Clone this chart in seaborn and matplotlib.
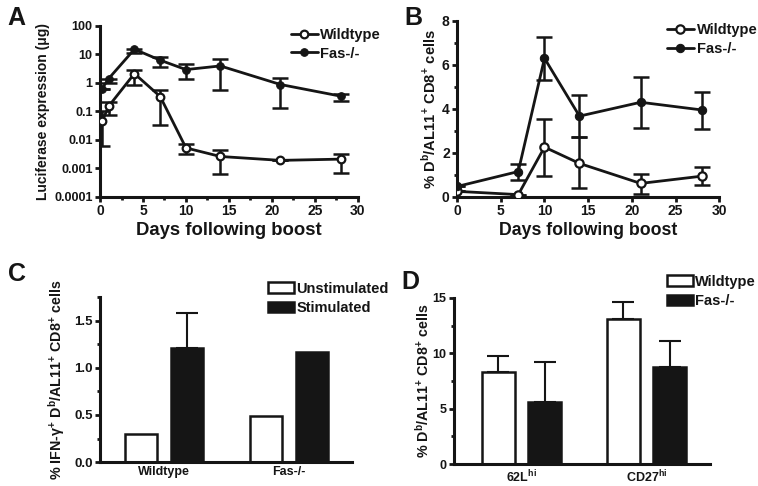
import numpy as np
import pandas as pd
import matplotlib
matplotlib.use("Agg")
import matplotlib.pyplot as plt
from matplotlib.ticker import MultipleLocator, FixedLocator, NullLocator
import seaborn as sns

# ---- panel A: luciferase expression (log scale)
days_a = [0.25, 1, 4, 7, 10, 14, 21, 28]
wt_a = [0.045, 0.15, 2.1, 0.33, 0.0052, 0.0026, 0.0019, 0.0021]
wt_a_lo = [0.006, 0.076, 0.81, 0.032, 0.0031, 0.00063, 0.0019, 0.00066]
wt_a_hi = [0.1, 0.21, 2.75, 0.57, 0.0072, 0.0045, 0.0019, 0.0033]
fas_a = [0.63, 1.4, 15, 6.2, 2.9, 3.9, 0.87, 0.34]
fas_a_lo = [0.63, 0.98, 10.7, 3.6, 1.4, 0.58, 0.13, 0.23]
fas_a_hi = [0.63, 1.4, 15, 8.1, 4.5, 6.8, 1.5, 0.42]

# ---- panel B: Db/AL11+ CD8+ cells
days_b = [0, 7, 10, 14, 21, 28]
wt_b = [0.25, 0.1, 2.26, 1.52, 0.61, 0.94]
wt_b_lo = [0.25, 0.1, 0.96, 0.38, 0.12, 0.52]
wt_b_hi = [0.25, 0.1, 3.52, 2.7, 1.05, 1.34]
fas_b = [0.47, 1.15, 6.3, 3.67, 4.3, 3.95]
fas_b_lo = [0.47, 0.78, 5.3, 2.7, 3.15, 3.08]
fas_b_hi = [0.47, 1.5, 7.25, 4.62, 5.45, 4.78]

# ---- panel C: IFN-gamma+ cells
groups_c = ["Wildtype", "Fas-/-"]
unstim_c = [0.30, 0.49]
stim_c = [1.21, 1.17]
stim_c_err = [0.37, 0.0]

# ---- panel D: phenotype
groups_d = ["62L$^{\\mathregular{hi}}$", "CD27$^{\\mathregular{hi}}$"]
wt_d = [8.3, 13.1]
wt_d_err = [1.5, 1.5]
fas_d = [5.6, 8.8]
fas_d_err = [3.6, 2.3]

sns.set_theme(style="ticks")
plt.rcParams["font.family"] = ["Liberation Sans", "DejaVu Sans"]
plt.rcParams["font.weight"] = "bold"
plt.rcParams["axes.labelweight"] = "bold"
plt.rcParams["mathtext.default"] = "bf"
INK = "#151515"
plt.rcParams["text.color"] = INK
plt.rcParams["axes.labelcolor"] = INK
plt.rcParams["xtick.color"] = INK
plt.rcParams["ytick.color"] = INK

fig = plt.figure(figsize=(7.58, 4.86), dpi=100)
axA = fig.add_axes([0.132, 0.595, 0.340, 0.352])
axB = fig.add_axes([0.603, 0.595, 0.346, 0.362])
axC = fig.add_axes([0.132, 0.049, 0.332, 0.340])
axD = fig.add_axes([0.599, 0.045, 0.338, 0.342])


def style_axes(ax, xsize, ysize):
    sns.despine(ax=ax)
    for s in ["left", "bottom"]:
        ax.spines[s].set_linewidth(2.2)
        ax.spines[s].set_color(INK)
    ax.tick_params(which="major", width=2, length=3.8, pad=1.5)
    ax.tick_params(which="minor", width=2, length=2.5)
    ax.tick_params(axis="x", labelsize=xsize)
    ax.tick_params(axis="y", labelsize=ysize)
    for lab in ax.get_xticklabels() + ax.get_yticklabels():
        lab.set_fontweight("bold")


def line_panel(ax, days, wt, wlo, whi, fas, flo, fhi, ms):
    err_kw = dict(fmt="none", ecolor=INK, elinewidth=1.8, capsize=6, capthick=1.8, zorder=2)
    ax.errorbar(days, wt, yerr=[np.array(wt) - np.array(wlo), np.array(whi) - np.array(wt)], **err_kw)
    ax.errorbar(days, fas, yerr=[np.array(fas) - np.array(flo), np.array(fhi) - np.array(fas)], **err_kw)
    sns.lineplot(x=days, y=wt, ax=ax, color=INK, lw=2, marker="o", markersize=ms,
                 markerfacecolor="white", markeredgecolor=INK, markeredgewidth=1.6,
                 label="Wildtype", zorder=3)
    sns.lineplot(x=days, y=fas, ax=ax, color=INK, lw=2, marker="o", markersize=ms,
                 markerfacecolor=INK, markeredgecolor=INK, label="Fas-/-", zorder=3)


line_leg = dict(bbox_transform=fig.transFigure, loc="upper left", frameon=False,
                prop={"weight": "bold", "size": 10.5}, handlelength=1.85,
                handletextpad=0.2, labelspacing=0.3, borderaxespad=0)
bar_leg = dict(bbox_transform=fig.transFigure, loc="upper left", frameon=False,
               prop={"weight": "bold", "size": 10.5}, handlelength=1.8,
               handleheight=0.75, handletextpad=0.15, labelspacing=0.35, borderaxespad=0)

# Panel A
line_panel(axA, days_a, wt_a, wt_a_lo, wt_a_hi, fas_a, fas_a_lo, fas_a_hi, 5.5)
axA.set_yscale("log")
axA.set_ylim(0.0001, 100)
axA.set_xlim(0, 30)
axA.yaxis.set_major_locator(FixedLocator([0.0001, 0.001, 0.01, 0.1, 1, 10, 100]))
axA.set_yticklabels(["0.0001", "0.001", "0.01", "0.1", "1", "10", "100"])
axA.yaxis.set_minor_locator(NullLocator())
axA.xaxis.set_major_locator(MultipleLocator(5))
axA.xaxis.set_minor_locator(MultipleLocator(2.5))
axA.set_xlabel("Days following boost", fontsize=13.3, labelpad=3)
axA.set_ylabel("Luciferase expression (\u03bcg)", fontsize=10, labelpad=3)
style_axes(axA, 10, 9)
axA.legend(bbox_to_anchor=(0.3756, 0.954), **line_leg)

# Panel B
line_panel(axB, days_b, wt_b, wt_b_lo, wt_b_hi, fas_b, fas_b_lo, fas_b_hi, 6)
axB.set_ylim(0, 8)
axB.set_xlim(0, 30)
axB.yaxis.set_major_locator(MultipleLocator(2))
axB.yaxis.set_minor_locator(MultipleLocator(1))
axB.xaxis.set_major_locator(MultipleLocator(5))
axB.set_xlabel("Days following boost", fontsize=12.8, labelpad=3)
axB.set_ylabel("% D$^{\\mathregular{b}}$/AL11$^{\\mathregular{+}}$ CD8$^{\\mathregular{+}}$ cells",
               fontsize=10.6, labelpad=2)
style_axes(axB, 10, 10)
axB.legend(bbox_to_anchor=(0.872, 0.964), **line_leg)


def bar_panel(ax, groups, first, second, names, first_err, second_err):
    df = pd.DataFrame({
        "group": groups * 2,
        "value": list(first) + list(second),
        "kind": [names[0]] * len(groups) + [names[1]] * len(groups),
    })
    sns.barplot(data=df, x="group", y="value", hue="kind", ax=ax,
                palette=["white", INK], edgecolor=INK, linewidth=1.8,
                width=0.74, gap=0.3, errorbar=None, saturation=1)
    bars = [p for p in ax.patches if p.get_height() > 0]
    errs = list(first_err) + list(second_err)
    vals = list(first) + list(second)
    for p, v, e in zip(bars, vals, errs):
        if e > 0:
            cx = p.get_x() + p.get_width() / 2
            ax.errorbar([cx], [v], yerr=[[0], [e]], fmt="none", ecolor=INK,
                        elinewidth=1.5, capsize=8, capthick=1.5, zorder=1)
    ax.set_xlabel("")


# Panel C
bar_panel(axC, groups_c, unstim_c, stim_c, ["Unstimulated", "Stimulated"], [0, 0], stim_c_err)
axC.set_ylim(0, 1.75)
axC.set_xlim(-0.51, 1.5)
axC.yaxis.set_major_locator(FixedLocator([0.0, 0.5, 1.0, 1.5]))
axC.set_yticklabels(["0.0", "0.5", "1.0", "1.5"])
axC.yaxis.set_minor_locator(FixedLocator([0.25, 0.75, 1.25, 1.75]))
axC.set_ylabel("% IFN-\u03b3$^{\\mathregular{+}}$ D$^{\\mathregular{b}}$/AL11$^{\\mathregular{+}}$ CD8$^{\\mathregular{+}}$ cells",
               fontsize=10.3, labelpad=5)
style_axes(axC, 9, 9.5)
axC.tick_params(axis="x", length=0, pad=3)
axC.legend(bbox_to_anchor=(0.3456, 0.432), **bar_leg)

# Panel D
bar_panel(axD, groups_d, wt_d, fas_d, ["Wildtype", "Fas-/-"], wt_d_err, fas_d_err)
axD.set_ylim(0, 15)
axD.set_xlim(-0.54, 1.51)
axD.yaxis.set_major_locator(MultipleLocator(5))
axD.yaxis.set_minor_locator(MultipleLocator(2.5))
axD.set_ylabel("% D$^{\\mathregular{b}}$/AL11$^{\\mathregular{+}}$ CD8$^{\\mathregular{+}}$ cells",
               fontsize=10.3, labelpad=1)
style_axes(axD, 9, 9)
axD.tick_params(axis="x", length=0, pad=3)
axD.legend(bbox_to_anchor=(0.872, 0.4465), **bar_leg)

# panel letters
for txt, x, y in [("A", 0.010, 0.988), ("B", 0.533, 0.988), ("C", 0.010, 0.46), ("D", 0.530, 0.445)]:
    fig.text(x, y, txt, fontsize=18, fontweight="bold", ha="left", va="top")

fig.savefig("out.png", dpi=100)
